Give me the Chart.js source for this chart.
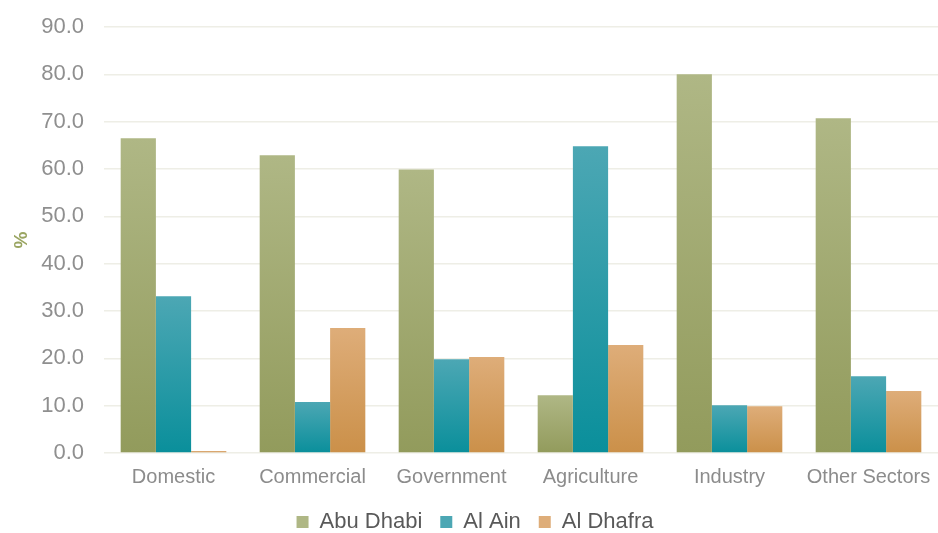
<!DOCTYPE html>
<html>
<head>
<meta charset="utf-8">
<script src="https://cdn.jsdelivr.net/npm/chart.js@4"></script>
<style>
html,body{margin:0;padding:0;background:#fff;}
#wrap{width:938px;height:533px;}
</style>
</head>
<body>
<div id="wrap"><canvas id="c" width="938" height="533"></canvas></div>
<script>
const categories = ["Domestic", "Commercial", "Government", "Agriculture", "Industry", "Other Sectors"];
const seriesNames = ["Abu Dhabi", "Al Ain", "Al Dhafra"];
const abuDhabi = [66.5, 62.9, 59.9, 12.2, 80.0, 70.7];
const alAin = [33.1, 10.8, 19.8, 64.8, 10.1, 16.2];
const alDhafra = [0.4, 26.4, 20.3, 22.8, 9.9, 13.1];
const yTicks = [0, 10, 20, 30, 40, 50, 60, 70, 80, 90];

const gradStops = [
  ["#afb785", "#929b5c"],
  ["#4ca7b4", "#0a8f9b"],
  ["#dead79", "#cb9049"]
];

function gradFill(i) {
  return function(ctx) {
    const chart = ctx.chart;
    const ys = chart.scales && chart.scales.y;
    if (!ys || ctx.type !== 'data') return gradStops[i][1];
    const v = ctx.raw;
    const top = ys.getPixelForValue(v);
    const base = ys.getPixelForValue(0);
    if (!isFinite(top) || !isFinite(base) || base - top < 1) return gradStops[i][1];
    const g = chart.ctx.createLinearGradient(0, top, 0, base);
    g.addColorStop(0, gradStops[i][0]);
    g.addColorStop(1, gradStops[i][1]);
    return g;
  };
}

const dataSets = [abuDhabi, alAin, alDhafra].map((d, i) => ({
  label: seriesNames[i],
  data: d,
  backgroundColor: gradFill(i),
  borderWidth: 0,
  barPercentage: 1.0,
  categoryPercentage: 0.76
}));

const FONT = "'Liberation Sans', Arial, sans-serif";

new Chart(document.getElementById('c'), {
  type: 'bar',
  data: { labels: categories, datasets: dataSets },
  options: {
    responsive: false,
    animation: false,
    layout: { padding: { left: 12, right: 0, top: 27, bottom: -10 } },
    plugins: {
      legend: {
        position: 'bottom',
        labels: {
          generateLabels: (chart) => seriesNames.map((n, i) => ({
            text: n, fillStyle: gradStops[i][0], strokeStyle: 'rgba(0,0,0,0)', lineWidth: 0, datasetIndex: i, fontColor: '#595959'
          })),
          boxWidth: 12, boxHeight: 12, padding: 18,
          color: '#595959',
          font: { family: FONT, size: 22 }
        }
      },
      tooltip: { enabled: false }
    },
    scales: {
      x: {
        grid: { display: false },
        border: { display: false },
        ticks: { color: '#8c8c8c', font: { family: FONT, size: 20 }, padding: 4 }
      },
      y: {
        min: 0, max: 90,
        afterBuildTicks: (axis) => { axis.ticks = yTicks.map(v => ({ value: v })); },
        afterFit: (axis) => { axis.width = 92; axis.paddingTop = 0; axis.paddingBottom = 0; },
        grid: { color: '#eeeee6', lineWidth: 1.5, drawTicks: false },
        border: { display: false },
        ticks: {
          color: '#8f8f8f',
          padding: 20,
          font: { family: FONT, size: 22 },
          callback: (v) => Number(v).toFixed(1)
        },
        title: {
          display: true, text: '%', color: '#9aa562',
          font: { family: FONT, size: 19, weight: 'bold', lineHeight: 1 },
          padding: { top: 0, bottom: 0 }
        }
      }
    }
  }
});
</script>
</body>
</html>
